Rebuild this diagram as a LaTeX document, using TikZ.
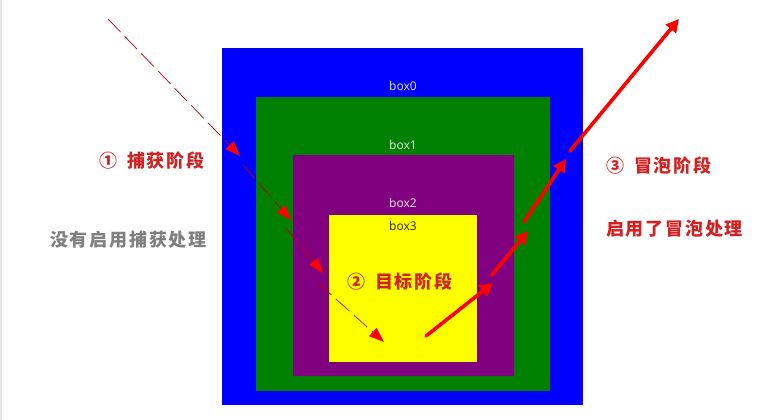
\documentclass[tikz,border=0pt]{standalone}
\usepackage{fontspec}
\setmainfont{Noto Sans}
\newfontfamily\cjk[LetterSpace=10]{Noto Sans CJK SC}
\usetikzlibrary{arrows.meta}
\definecolor{boxblue}{HTML}{0000FF}
\definecolor{boxgreen}{HTML}{008000}
\definecolor{boxpurple}{HTML}{800080}
\definecolor{boxyellow}{HTML}{FFFF00}
\definecolor{capred}{HTML}{C00000}
\definecolor{labred}{HTML}{D42020}
\definecolor{labgray}{HTML}{808080}
\tikzset{
  layer/.style={fill=#1, draw=none},
  boxlabel/.style={font=\fontsize{12}{14}\selectfont, inner sep=0pt, anchor=west},
  stagelabel/.style={font=\cjk\bfseries\fontsize{18}{20}\selectfont, inner sep=0pt, anchor=west, text=labred},
  capline/.style={draw=capred, line width=0.7pt, dash pattern=on 18pt off 6pt,
    -{Triangle[length=15pt,width=11pt,fill=red,color=red]}},
  bubline/.style={draw=red, line width=3.6pt, line cap=round,
    -{Triangle[length=13pt,width=13pt,fill=red,color=red]}},
}
\begin{document}
\begin{tikzpicture}[x=1pt,y=-1pt]
\useasboundingbox[fill=white] (0,0) rectangle (766,420);
\fill[gray!20] (0,0) rectangle (2,420);
% nested boxes
\path[layer=boxblue] (222,48) rectangle (583,405);
\path[layer=boxgreen] (256,97) rectangle (550,391);
\path[layer=boxpurple] (293,155) rectangle (514,376);
\path[layer=boxyellow] (329,215) rectangle (477,362);
\node[boxlabel, text=white, text opacity=0.85] (b0) at (389,86) {box0};
\node[boxlabel, text=white, text opacity=0.85] (b1) at (389,145) {box1};
\node[boxlabel, text=white, text opacity=0.85] (b2) at (389,203) {box2};
\node[boxlabel, text=black, text opacity=0.8] (b3) at (389,226) {box3};
% labels
\node[stagelabel] (l1) at (99,161) {①\hspace{10pt}捕获阶段};
\node[stagelabel, text=labgray] (l2) at (50,240) {没有启用捕获处理};
\node[stagelabel] (l3) at (347,282) {②\hspace{10pt}目标阶段};
\node[stagelabel] (l4) at (606,166) {③\hspace{10pt}冒泡阶段};
\node[stagelabel] (l5) at (606,229) {启用了冒泡处理};
% capture arrows
\coordinate (c0) at (108,19);
\coordinate (c1) at (240,156);
\coordinate (c2) at (243,165);
\coordinate (c3) at (291,220);
\coordinate (c4) at (286,228);
\coordinate (c5) at (323,273);
\coordinate (c6) at (318,283);
\coordinate (c7) at (384,342);
\draw[capline] (c0) -- (c1);
\draw[capline] (c2) -- (c3);
\draw[capline] (c4) -- (c5);
\draw[capline] (c6) -- (c7);
% bubble arrows
\coordinate (u0) at (426,336);
\coordinate (u1) at (493,283);
\coordinate (u2) at (492,275);
\coordinate (u3) at (528,231);
\coordinate (u4) at (524,222);
\coordinate (u5) at (566,159);
\coordinate (u6) at (570,151);
\coordinate (u7) at (679,19);
\draw[bubline] (u0) -- (u1);
\draw[bubline] (u2) -- (u3);
\draw[bubline] (u4) -- (u5);
\draw[bubline] (u6) -- (u7);
\end{tikzpicture}
\end{document}
